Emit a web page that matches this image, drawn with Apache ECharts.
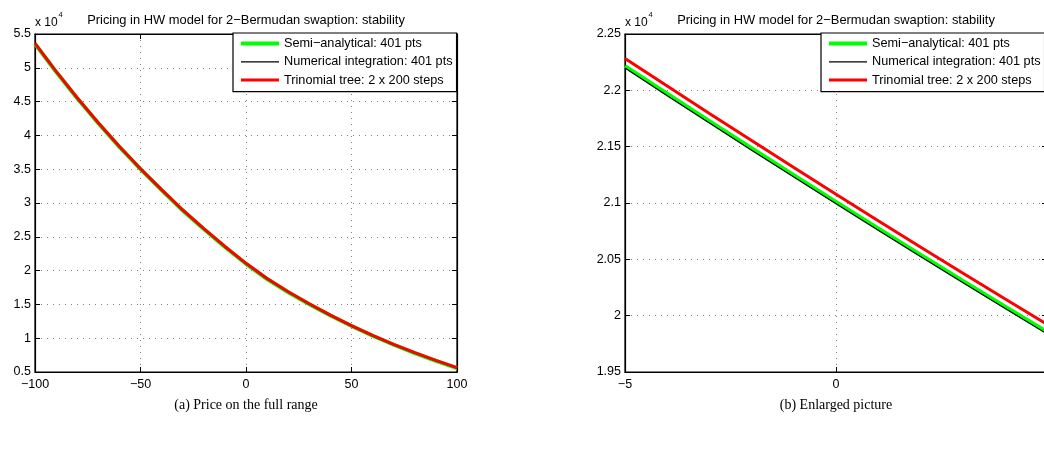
<!DOCTYPE html>
<html><head><meta charset="utf-8">
<script src="https://cdn.jsdelivr.net/npm/echarts@6/dist/echarts.min.js"></script>
<style>html,body{margin:0;padding:0;background:#fff}#c{width:1044px;height:455px}</style>
</head><body><div id="c"></div><script>
// ---- data (prices, x 10^4 shown on axis) ----
const fullX = [-100,-90,-80,-70,-60,-50,-40,-30,-20,-10,0,10,20,30,40,50,60,70,80,90,100];
const fullSemi = [53550,49400,45500,41800,38300,35000,31900,28900,26150,23500,21010,18750,16800,15020,13350,11800,10360,9030,7800,6650,5570];
const fullNum  = [53535,49385,45485,41785,38285,34985,31885,28885,26135,23485,20995,18735,16785,15005,13335,11785,10345,9015,7785,6635,5555];
const fullTree = [53620,49470,45570,41870,38370,35070,31970,28970,26220,23570,21080,18820,16870,15090,13420,11870,10430,9100,7870,6720,5640];

const zoomX = [-5,-4,-3,-2,-1,0,1,2,3,4,5];
const zoomSemi = [22215,21970,21727,21486,21247,21010,20775,20542,20311,20082,19855];
const zoomNum  = [22198,21953,21710,21469,21230,20993,20758,20525,20294,20065,19838];
const zoomTree = [22283,22038,21795,21554,21315,21078,20843,20610,20379,20150,19923];

const seriesNames = ['Semi\u2212analytical: 401 pts','Numerical integration: 401 pts','Trinomial tree: 2 x 200 steps'];
const titleText = 'Pricing in HW model for 2\u2212Bermudan swaption: stability';
const captions = ['(a) Price on the full range','(b) Enlarged picture'];

const FONT = '"Liberation Sans", Arial, Helvetica, sans-serif';
const pair = (xs, ys) => xs.map((x,i)=>[x, ys[i]]);
const xFmt = v => v < 0 ? '\u2212' + Math.abs(v) : String(v);
const yFmt = v => String(+(v/1e4).toFixed(2));

const grids = [
  {left:35, top:34, width:422, height:338},
  {left:625, top:34, width:422, height:338}
];
const axisCommon = {
  axisLine:{show:true, onZero:false, lineStyle:{color:'#000', width:1.2}},
  axisTick:{show:true, inside:true, length:5, lineStyle:{color:'#000', width:1}},
};
function xAxes(gi, min, max, interval){
  return [
    Object.assign({type:'value', gridIndex:gi, position:'bottom', min, max, interval,
      axisLabel:{formatter:xFmt, fontFamily:FONT, fontSize:12.5, color:'#000', margin:6},
      splitLine:{show:true, lineStyle:{color:'#808080', type:[1,5], width:1}}}, axisCommon),
    Object.assign({type:'value', gridIndex:gi, position:'top', min, max, interval,
      axisLabel:{show:false}, splitLine:{show:false}}, axisCommon)
  ];
}
function yAxes(gi, min, max, interval){
  return [
    Object.assign({type:'value', gridIndex:gi, position:'left', min, max, interval,
      axisLabel:{formatter:yFmt, fontFamily:FONT, fontSize:12.5, color:'#000', margin:4},
      splitLine:{show:true, lineStyle:{color:'#808080', type:[1,5], width:1}}}, axisCommon),
    Object.assign({type:'value', gridIndex:gi, position:'right', min, max, interval,
      axisLabel:{show:false}, splitLine:{show:false}}, axisCommon)
  ];
}
const styles = [
  {color:'#00ff00', width:4},
  {color:'#000000', width:1.2},
  {color:'#ff0000', width:3}
];
function lines(xi, yi, xs, arrs){
  return arrs.map((ys,k)=>({
    type:'line', name:seriesNames[k], xAxisIndex:xi, yAxisIndex:yi,
    data:pair(xs, ys), symbol:'none', showSymbol:false, smooth:false, animation:false,
    lineStyle:{color:styles[k].color, width:styles[k].width},
    itemStyle:{color:styles[k].color}, z:2+k
  }));
}
function legend(left){
  return {left, top:33, orient:'vertical', itemWidth:38, itemHeight:13, itemGap:5.3,
    padding:[4,4,5,8], borderColor:'#000', borderWidth:1.2, backgroundColor:'#fff',
    selectedMode:false, z:10, symbolKeepAspect:true,
    textStyle:{fontFamily:FONT, fontSize:12.7, color:'#000', lineHeight:13},
    data:seriesNames.map((n,k)=>({name:n,
      icon:'path://M0,0L38,0L38,' + styles[k].width + 'L0,' + styles[k].width + 'Z',
      itemStyle:{color:styles[k].color, borderWidth:0}}))};
}
function txt(x,y,text,size,align,family){
  return {type:'text', x, y, z:20, style:{text, fontSize:size, fontFamily:family||FONT, fill:'#000',
    textAlign:align||'left', textVerticalAlign:'middle'}};
}

const chart = echarts.init(document.getElementById('c'), null, {renderer:'canvas'});
chart.setOption({
  animation:false,
  backgroundColor:'#fff',
  grid: grids.map(g=>Object.assign({show:true, borderColor:'#000', borderWidth:1.2, backgroundColor:'#fff',
    containLabel:false, outerBoundsMode:'none'}, g)),
  xAxis: [...xAxes(0,-100,100,50), ...xAxes(1,-5,5,5)],
  yAxis: [...yAxes(0,5000,55000,5000), ...yAxes(1,19500,22500,500)],
  legend: [legend(233), legend(821)],
  series: [...lines(0,0,fullX,[fullSemi,fullNum,fullTree]), ...lines(2,2,zoomX,[zoomSemi,zoomNum,zoomTree])],
  graphic: [
    txt(246,20,titleText,12.9,'center'),
    txt(836,20,titleText,12.9,'center'),
    txt(35,22.5,'x 10',12,'left'),
    txt(58.5,15,'4',7.5,'left'),
    txt(625,22.5,'x 10',12,'left'),
    txt(648.5,15,'4',7.5,'left'),
    txt(246,405,captions[0],14,'center','"Liberation Serif", "DejaVu Serif", serif'),
    txt(836,405,captions[1],14,'center','"Liberation Serif", "DejaVu Serif", serif')
  ]
});
</script></body></html>
